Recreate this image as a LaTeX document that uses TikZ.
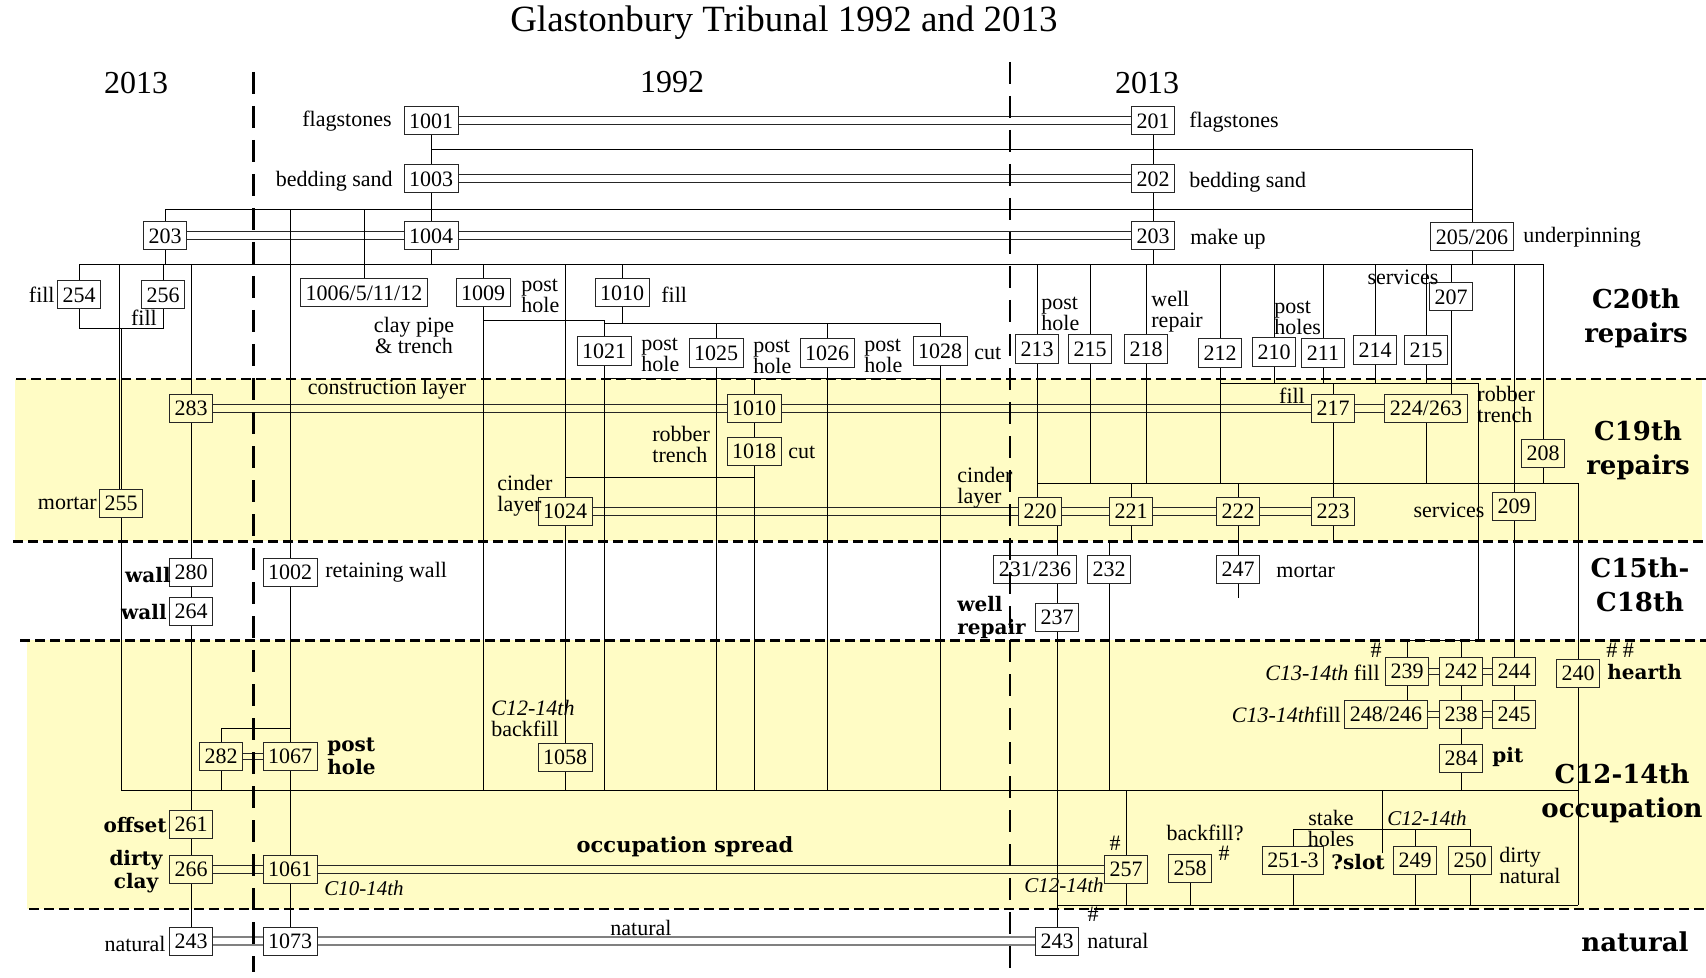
\documentclass[tikz,border=0pt]{standalone}
\usepackage{fontspec}
\setmainfont{Liberation Serif}
\newfontfamily\heavy{DejaVu Serif}
\usetikzlibrary{backgrounds}
\definecolor{band}{RGB}{255,252,197}
\def\sz#1#2{\fontsize{#1}{#2}\selectfont}

\begin{document}
\begin{tikzpicture}[x=0.5pt,y=-0.5pt,
    ctx/.style={draw=black!85,line width=0.5pt,inner xsep=2.5pt,inner ysep=0pt,minimum height=14pt,font=\sz{11}{12}},
    lab/.style={inner sep=0pt,align=left,font=\sz{11}{10.5}},
    it/.style={inner sep=0pt,font=\sz{10.5}{11}\itshape},
    note/.style={inner sep=0pt,align=left,font=\heavy\bfseries\sz{10}{11.5}},
    per/.style={inner sep=0pt,align=center,font=\heavy\bfseries\sz{13}{17}},
    year/.style={inner sep=0pt,font=\sz{16}{18}},
    same/.style={draw=black!85,line width=0.5pt,double=white,double distance=3.5pt},
    bound/.style={line width=1pt,dash pattern=on 5pt off 2.5pt},
    splitline/.style={line width=1.5pt,dash pattern=on 11pt off 6pt}]

    \useasboundingbox (0,0) rectangle (1706,978);

    \node[inner sep=0pt,font=\sz{18.5}{20}] (title) at (784,23) {Glastonbury Tribunal 1992 and 2013};
    \node[year] (y13a) at (136,83) {2013};
    \node[year] (y92) at (672,82) {1992};
    \node[year] (y13b) at (1147,83) {2013};

    \node[per] (p20) at (1636,318) {C20th\\repairs};
    \node[per] (p19) at (1638,450) {C19th\\repairs};
    \node[per] (p15) at (1640,585) {C15th-\\C18th};
    \node[per] (p12) at (1622,793) {C12-14th\\occupation};
    \node[per] (pnat) at (1635,942) {natural};

    % 1992 and 2013 top
    \node[ctx] (1001) at (431,121) {1001};
    \node[ctx] (1003) at (431,179) {1003};
    \node[ctx] (1004) at (431,236) {1004};
    \node[ctx] (203l) at (165,236) {203};
    \node[ctx] (201) at (1153,121) {201};
    \node[ctx] (202) at (1153,179) {202};
    \node[ctx] (203r) at (1153,236) {203};
    \node[ctx] (205) at (1472,237) {205/206};

    % C20th
    \node[ctx] (254) at (79,295) {254};
    \node[ctx] (256) at (163,295) {256};
    \node[ctx] (1006) at (364,293) {1006/5/11/12};
    \node[ctx] (1009) at (483,293) {1009};
    \node[ctx] (1010a) at (622,293) {1010};
    \node[ctx] (1021) at (604,351) {1021};
    \node[ctx] (1025) at (716,353) {1025};
    \node[ctx] (1026) at (827,353) {1026};
    \node[ctx] (1028) at (940,351) {1028};
    \node[ctx] (213) at (1037,349) {213};
    \node[ctx] (215) at (1090,349) {215};
    \node[ctx] (218) at (1146,349) {218};
    \node[ctx] (212) at (1220,353) {212};
    \node[ctx] (210) at (1274,352) {210};
    \node[ctx] (211) at (1323,353) {211};
    \node[ctx] (214) at (1375,350) {214};
    \node[ctx] (215b) at (1426,350) {215};
    \node[ctx] (207) at (1451,297) {207};

    % C19th
    \node[ctx] (283) at (191,408) {283};
    \node[ctx] (1010b) at (754,408) {1010};
    \node[ctx] (217) at (1333,408) {217};
    \node[ctx] (224) at (1426,408) {224/263};
    \node[ctx] (1018) at (754,451) {1018};
    \node[ctx] (208) at (1543,453) {208};
    \node[ctx] (255) at (121,503) {255};
    \node[ctx] (1024) at (565,511) {1024};
    \node[ctx] (220) at (1040,511) {220};
    \node[ctx] (221) at (1131,511) {221};
    \node[ctx] (222) at (1238,511) {222};
    \node[ctx] (223) at (1333,511) {223};
    \node[ctx] (209) at (1514,506) {209};

    % C15th-C18th
    \node[ctx] (280) at (191,572) {280};
    \node[ctx] (264) at (191,611) {264};
    \node[ctx] (1002) at (290,572) {1002};
    \node[ctx] (231) at (1035,569) {231/236};
    \node[ctx] (232) at (1109,569) {232};
    \node[ctx] (247) at (1238,569) {247};
    \node[ctx] (237) at (1057,617) {237};

    % C12-14th
    \node[ctx] (239) at (1407,671) {239};
    \node[ctx] (242) at (1461,671) {242};
    \node[ctx] (244) at (1514,671) {244};
    \node[ctx] (240) at (1578,673) {240};
    \node[ctx] (248) at (1386,714) {248/246};
    \node[ctx] (238) at (1461,714) {238};
    \node[ctx] (245) at (1514,714) {245};
    \node[ctx] (284) at (1461,758) {284};
    \node[ctx] (282) at (221,756) {282};
    \node[ctx] (1067) at (290,756) {1067};
    \node[ctx] (1058) at (565,757) {1058};
    \node[ctx] (261) at (191,824) {261};
    \node[ctx] (266) at (191,869) {266};
    \node[ctx] (1061) at (290,869) {1061};
    \node[ctx] (257) at (1126,869) {257};
    \node[ctx] (258) at (1190,868) {258};
    \node[ctx] (251) at (1293,860) {251-3};
    \node[ctx] (249) at (1415,860) {249};
    \node[ctx] (250) at (1470,860) {250};

    % natural
    \node[ctx] (243l) at (191,941) {243};
    \node[ctx] (1073) at (290,941) {1073};
    \node[ctx] (243r) at (1057,941) {243};

    \node[lab,anchor=east] (l1001) at (392,121) {flagstones};
    \node[lab,anchor=east] (l1003) at (393,181) {bedding sand};
    \node[lab,anchor=west] (l201) at (1189,122) {flagstones};
    \node[lab,anchor=west] (l202) at (1189,182) {bedding sand};
    \node[lab,anchor=west] (l203) at (1190,239) {make up};
    \node[lab,anchor=west] (l205) at (1523,237) {underpinning};
    \node[lab,anchor=east] (l254) at (55,295) {fill};
    \node[lab] (l256) at (144,318) {fill};
    \node[lab,align=center] (l1006) at (414,335) {clay pipe\\\& trench};
    \node[lab,anchor=west] (l1009) at (521,296) {post\\hole};
    \node[lab,anchor=west] (l1010a) at (661,295) {fill};
    \node[lab,anchor=west] (l1021) at (641,355) {post\\hole};
    \node[lab,anchor=west] (l1025) at (753,357) {post\\hole};
    \node[lab,anchor=west] (l1026) at (864,356) {post\\hole};
    \node[lab,anchor=west] (l1028) at (974,353) {cut};
    \node[lab,anchor=west] (l213) at (1041,314) {post\\hole};
    \node[lab,anchor=west] (l218) at (1151,312) {well\\repair};
    \node[lab,anchor=west] (l211) at (1274,318) {post\\holes};
    \node[lab] (l207) at (1403,277) {services};
    \node[lab] (l283) at (387,389) {construction layer};
    \node[lab,anchor=west] (l1018) at (652,444) {robber\\trench};
    \node[lab,anchor=west] (l1018b) at (788,452) {cut};
    \node[lab,anchor=west] (l1024) at (497,496) {cinder\\layer};
    \node[lab,anchor=west] (l220) at (957,488) {cinder\\layer};
    \node[lab] (l217) at (1292,396) {fill};
    \node[lab,anchor=west] (l224) at (1477,404) {robber\\trench};
    \node[lab] (l209) at (1449,510) {services};
    \node[lab,anchor=east] (l255) at (97,503) {mortar};
    \node[note,anchor=east] (l280) at (171,575) {wall};
    \node[note,anchor=east] (l264) at (167,612) {wall};
    \node[lab,anchor=west] (l1002) at (325,572) {retaining wall};
    \node[lab,anchor=west] (l247) at (1276,571) {mortar};
    \node[note,anchor=west] (l237) at (957,617) {well\\repair};
    \node[note,anchor=west] (l1067) at (327,756) {post\\hole};
    \node[lab,anchor=west] (l1058) at (491,718) {\textit{C12-14th}\\backfill};
    \node[note,anchor=east] (l261) at (167,825) {offset};
    \node[note,align=center] (l266) at (136,872) {dirty\\clay};
    \node[note,font=\heavy\bfseries\sz{10.5}{12}] (l1061) at (685,847) {occupation spread};
    \node[it] (l1061b) at (364,888) {C10-14th};
    \node[lab,anchor=east] (l243l) at (166,944) {natural};
    \node[lab] (l1073) at (641,928) {natural};
    \node[lab] (h243) at (1093,914) {\#};
    \node[lab,anchor=west] (l243r) at (1087,941) {natural};
    \node[it] (l257) at (1064,885) {C12-14th};
    \node[lab] (h257) at (1115,843) {\#};
    \node[lab] (l258) at (1205,833) {backfill?};
    \node[lab] (h258) at (1224,853) {\#};
    \node[lab,align=center] (l251) at (1331,828) {stake\\holes};
    \node[note] (slot) at (1358,862) {?slot};
    \node[it] (l249) at (1427,818) {C12-14th};
    \node[lab,anchor=west] (l250) at (1499,865) {dirty\\natural};
    \node[lab] (h239) at (1376,650) {\#};
    \node[lab,anchor=east] (l239) at (1380,673) {\textit{C13-14th} fill};
    \node[lab,anchor=east] (l248) at (1341,715) {\textit{C13-14th}fill};
    \node[lab] (h240) at (1620,650) {\# \#};
    \node[note,anchor=west] (l240) at (1607,672) {hearth};
    \node[note,anchor=west] (l284) at (1492,757) {pit};

    \coordinate (busA) at (0,149);
    \coordinate (busB) at (0,209);
    \coordinate (busC) at (0,264);
    \coordinate (busD) at (0,320);
    \coordinate (busE) at (0,323);
    \coordinate (fills) at (0,328);
    \coordinate (busF) at (0,378);
    \coordinate (busI) at (0,383);
    \coordinate (busG) at (0,477);
    \coordinate (busH) at (0,483);
    \coordinate (busJ) at (0,541);
    \coordinate (busK) at (0,728);
    \coordinate (busM) at (0,790);
    \coordinate (busL) at (0,829);
    \coordinate (busN) at (0,905);
    \coordinate (tr) at (1478,640);
    \coordinate (slottop) at (1382,853);
    \coordinate (s247) at (1238,598);

    \begin{scope}[on background layer,black!85,line width=0.5pt]
      \fill[band] (15,379) rectangle (1702,541);
      \fill[band] (27,640) rectangle (1706,909);

      \draw[same] (1001) -- (201) (1003) -- (202) (203l) -- (1004) (1004) -- (203r);
      \draw[same,double=band] (283) -- (1010b) (1010b) -- (217) (217) -- (224)
            (1024) -- (220) (220) -- (221) (221) -- (222) (222) -- (223)
            (266) -- (1061) (1061) -- (257);
      \draw[same,double=band,double distance=2.5pt] (282) -- (1067) (239) -- (242) (242) -- (244)
            (248) -- (238) (238) -- (245);
      \draw[same,draw=black!50,line width=0.8pt,double distance=3pt] (243l) -- (1073) (1073) -- (243r);

      \path (1001) edge (1003) (1003) edge (1004) (201) edge (202) (202) edge (203r)
            (283) edge (280) (280) edge (264) (264) edge (261) (261) edge (266) (266) edge (243l)
            (1002) edge (1067) (1067) edge (1061) (1061) edge (1073)
            (1010b) edge (1018) (1024) edge (1058) (217) edge (223) (222) edge (247)
            (237) edge (243r) (209) edge (244) (242) edge (238) (244) edge (245) (238) edge (284);

      \draw (1001.south |- busA) -| (205.north);
      \draw (203l.north) |- (205.north |- busB);
      \draw (1006.north) -- (1006.north |- busB);
      \draw (1002.north) -- (1002.north |- busB);

      \draw (254.north) |- (208.north |- busC) -- (208.north);
      \foreach \n in {203l,1004,203r,205}
        \draw (\n.south) -- (\n.south |- busC);
      \foreach \n in {256,283,1009,1024,1010a,213,215,218,212,210,211,214,215b,207,209}
        \draw (\n.north) -- (\n.north |- busC);
      \draw ([xshift=-1pt]255.north) -- ([xshift=-1pt]255.north |- busC);
      \draw (254.south) |- (256.south |- fills) -- (256.south);
      \draw (255.north) -- (255.north |- fills);

      \draw (1009.south) |- (1021.north |- busD) -- (1021.north);
      \draw (1010a.south) -- (1010a.south |- busE);
      \draw (1021.north |- busE) -| (1028.north);
      \foreach \n in {1025,1026}
        \draw (\n.north) -- (\n.north |- busE);
      \draw (1021.south |- busF) -- (1028.south |- busF);
      \draw (1010b.north) -- (1010b.north |- busF);
      \foreach \n in {1009,1021,1025,1026,1028,1018,1058,282,232,284}
        \draw (\n.south) -- (\n.south |- busM);
      \draw (1018.south |- busG) -- (1024.north |- busG);

      \draw (213.south) -- (213.south |- 220.north);
      \draw (213.south |- busH) -| (240.north);
      \foreach \n in {215,218,212,224,208}
        \draw (\n.south) -- (\n.south |- busH);
      \foreach \n in {221,222}
        \draw (\n.north) -- (\n.north |- busH);
      \draw (207.south) -- (207.south |- 224.north);

      \draw (212.south |- busI) -| (tr);
      \foreach \n in {210,211,214,215b}
        \draw (\n.south) -- (\n.south |- busI);
      \draw (217.north) -- (217.north |- busI);
      \draw (239.north) |- (tr);
      \draw (242.north) -- (242.north |- tr);

      \draw (223.south) -- (223.south |- busJ);
      \draw (221.south) -- (221.south |- busJ);
      \draw (232.north) -- (232.north |- busJ);
      \draw (220.south -| 237.north) -- (231.north -| 237.north);
      \draw (231.south -| 237.north) -- (237.north);
      \draw (247.south) -- (s247);

      \draw (239.south) -- (239.south |- 248.north);
      \draw (282.north) |- (1067.north |- busK);
      \draw (255.south) |- (240.north |- busM);
      \draw (257.north) -- (257.north |- busM);
      \draw (slottop) -- (slottop |- busM);
      \draw (251.north) |- (250.north |- busL) -- (250.north);
      \draw (249.north) -- (249.north |- busL);
      \draw (237.south |- busN) -- (240.south |- busN);
      \foreach \n in {257,258,251,249,250,240}
        \draw (\n.south) -- (\n.south |- busN);
    \end{scope}

    \draw[bound] (16,379) -- (1706,379);
    \draw[bound,line width=1.5pt] (13,541) -- (1706,541);
    \draw[bound,line width=1.5pt] (20,640) -- (1706,640);
    \draw[bound] (29,909) -- (1706,909);
    \draw[splitline] (253,72) -- (253,972);
    \draw[splitline,line width=1.2pt] (1010,62) -- (1010,975);
\end{tikzpicture}
\end{document}
